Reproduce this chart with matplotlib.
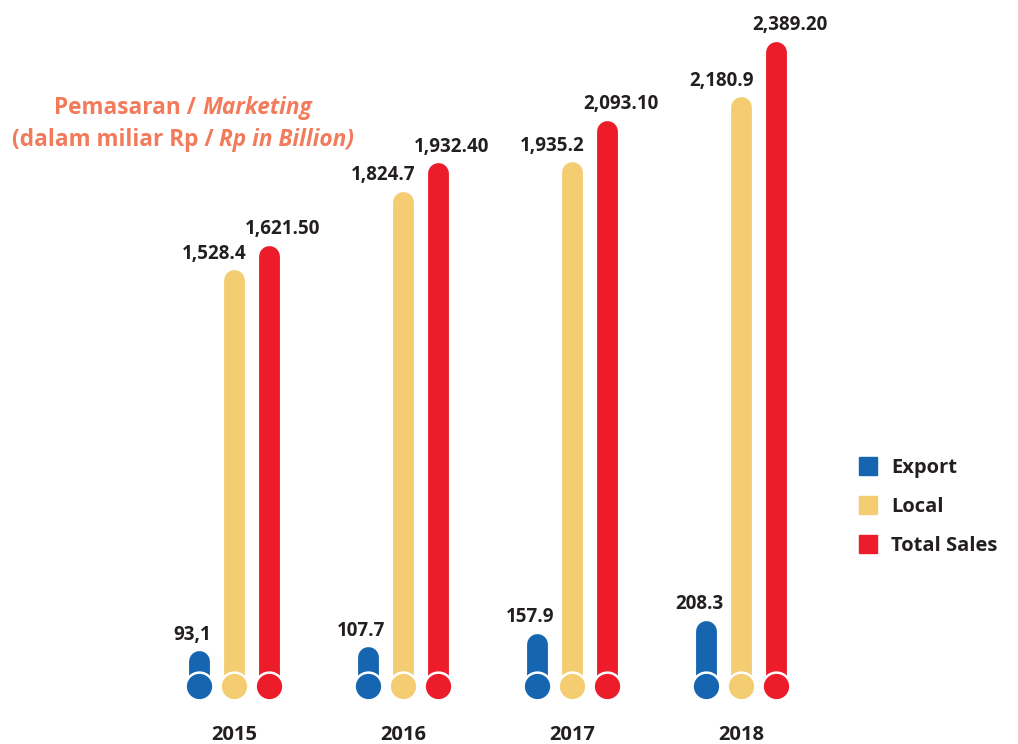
import matplotlib
matplotlib.use("Agg")
import matplotlib.pyplot as plt
from matplotlib.lines import Line2D
from matplotlib.offsetbox import TextArea, HPacker, VPacker, AnchoredOffsetbox

years = ["2015", "2016", "2017", "2018"]
export = [93.1, 107.7, 157.9, 208.3]
local = [1528.4, 1824.7, 1935.2, 2180.9]
total = [1621.50, 1932.40, 2093.10, 2389.20]

export_labels = ["93,1", "107.7", "157.9", "208.3"]
local_labels = ["1,528.4", "1,824.7", "1,935.2", "2,180.9"]
total_labels = ["1,621.50", "1,932.40", "2,093.10", "2,389.20"]

BLUE = "#1565b0"
YELLOW = "#f4cd73"
RED = "#ec1c2a"
TEXT = "#231f20"
ORANGE = "#f27b5b"

plt.rcParams['font.family'] = ['Open Sans', 'DejaVu Sans']

fig = plt.figure(figsize=(10.18, 7.44), dpi=100)
ax = fig.add_axes([0, 0, 1, 1])
ax.set_xlim(-1.385, 4.639)
ax.set_ylim(-218.5, 2585)
ax.axis("off")

offset = 0.207
series = [
    (export, export_labels, BLUE, -offset, -5),
    (local, local_labels, YELLOW, 0.0, -14),
    (total, total_labels, RED, offset, 10),
]

for i, year in enumerate(years):
    for vals, labs, color, dx, lab_dx in series:
        x = i + dx
        ax.plot([x, x], [0, vals[i]], color=color, lw=15,
                solid_capstyle="round", zorder=2)
        ax.scatter([x], [0], s=400, color=color, edgecolor="white",
                   linewidth=1.8, zorder=3)
        ax.annotate(labs[i], (x, vals[i]), xytext=(lab_dx, 12),
                    textcoords="offset points", ha="center", va="bottom",
                    fontsize=13.5, fontweight="bold", color=TEXT)
    ax.annotate(year, (i, 0), xytext=(0, -35), textcoords="offset points",
                ha="center", va="center", fontsize=14.5, fontweight="bold",
                color=TEXT)

# title with mixed upright / italic parts
tprops = dict(color=ORANGE, fontsize=16.3, fontweight="bold")
iprops = dict(color=ORANGE, fontsize=16.3, fontweight="bold", style="italic")
line1 = HPacker(children=[TextArea("Pemasaran / ", textprops=tprops),
                          TextArea("Marketing", textprops=iprops)],
                align="baseline", pad=0, sep=0)
line2 = HPacker(children=[TextArea("(dalam miliar Rp / ", textprops=tprops),
                          TextArea("Rp in Billion)", textprops=iprops)],
                align="baseline", pad=0, sep=0)
title = VPacker(children=[line1, line2], align="center", pad=0, sep=6)
anch = AnchoredOffsetbox(loc="center", child=title, frameon=False,
                         bbox_to_anchor=(183 / 1018, 1 - 124 / 744),
                         bbox_transform=fig.transFigure, borderpad=0)
ax.add_artist(anch)

handles = [Line2D([], [], marker="s", ls="", markersize=13, color=c)
           for c in (BLUE, YELLOW, RED)]
leg = ax.legend(handles, ["Export", "Local", "Total Sales"],
                loc="upper left", bbox_to_anchor=(838 / 1018, 1 - 440 / 744),
                bbox_transform=fig.transFigure, frameon=False,
                prop=dict(size=14.5, weight="bold"), labelspacing=0.95,
                handletextpad=0.55, handlelength=1.2)
for t in leg.get_texts():
    t.set_color(TEXT)

fig.savefig("out.png", dpi=100)
